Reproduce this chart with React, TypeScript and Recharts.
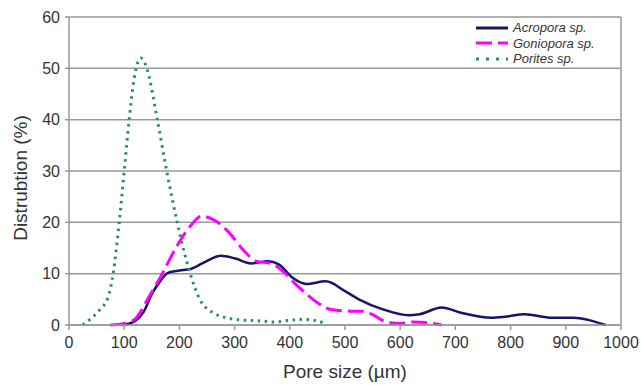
// Pore size distribution of three coral species
import { LineChart, Line, XAxis, YAxis, CartesianGrid, ReferenceLine, Label } from "recharts";

const xTicks = [0, 100, 200, 300, 400, 500, 600, 700, 800, 900, 1000];
const yTicks = [0, 10, 20, 30, 40, 50, 60];

const acroporaX = [95, 110, 120, 135, 150, 165, 180, 200, 220, 245, 275, 300, 330, 360, 380, 405, 430, 465, 500, 525, 570, 615, 635, 675, 710, 765, 790, 825, 875, 915, 940, 972];
const acroporaY = [0, 0.3, 0.8, 2.5, 6, 8.5, 10.2, 10.6, 10.9, 12.2, 13.5, 13, 12, 12.4, 11.8, 9.2, 8.0, 8.5, 6.6, 5, 3, 1.9, 2.1, 3.4, 2.4, 1.4, 1.6, 2.1, 1.4, 1.4, 1.0, 0];

const gonioporaX = [75, 100, 120, 145, 170, 195, 220, 240, 265, 290, 315, 340, 365, 385, 410, 435, 455, 475, 510, 530, 550, 575, 600, 625, 645, 675];
const gonioporaY = [0, 0.3, 1.2, 5.5, 10.2, 15.3, 19.3, 21.2, 20.3, 18, 14.7, 12.4, 12, 10.7, 8, 5.6, 4, 3, 2.7, 2.7, 2, 0.6, 0.3, 0.6, 0.5, 0];

const poritesX = [25, 38, 56, 71, 80, 91, 100, 109, 118, 130, 141, 160, 177, 196, 219, 237, 261, 285, 310, 345, 370, 400, 423, 450, 465];
const poritesY = [0, 1.1, 3, 5.5, 10, 20, 30, 40, 48, 52, 50, 40, 30, 20, 10.2, 5, 2.4, 1.4, 1, 0.8, 0.6, 0.9, 1.1, 0.8, 0.2];

const seriesNames = ["Acropora sp.", "Goniopora sp.", "Porites sp."];

const toRows = (xs: number[], ys: number[]) => xs.map((x, i) => ({ x, y: ys[i] }));

const acroporaData = toRows(acroporaX, acroporaY);
const gonioporaData = toRows(gonioporaX, gonioporaY);
const poritesData = toRows(poritesX, poritesY);

const font = "Arial, 'Liberation Sans', sans-serif";

const legendItems = [
  { name: seriesNames[0], color: "#15156b", dash: undefined },
  { name: seriesNames[1], color: "#ff00ff", dash: "16 6" },
  { name: seriesNames[2], color: "#2e8b6a", dash: "3 7" },
];

function CustomLegend() {
  return (
    <div
      style={{
        position: "absolute",
        left: 474,
        top: 20,
        background: "white",
        fontFamily: font,
        fontSize: 13,
        fontStyle: "italic",
        color: "#333",
        lineHeight: "15.5px",
      }}
    >
      {legendItems.map((it) => (
        <div key={it.name} style={{ display: "flex", alignItems: "center", height: 15.5 }}>
          <svg width={39} height={8}>
            <line x1={2} y1={4} x2={34} y2={4} stroke={it.color} strokeWidth={3} strokeDasharray={it.dash} />
          </svg>
          <span>{it.name}</span>
        </div>
      ))}
    </div>
  );
}

export default function App() {
  return (
    <div style={{ position: "absolute", left: 0, top: 0, width: 641, height: 385, background: "white" }}>
      <LineChart width={641} height={385} margin={{ top: 17, right: 20, left: 0, bottom: 0 }}>
        <CartesianGrid vertical={false} stroke="#999" strokeWidth={1.5} />
        <XAxis
          type="number"
          dataKey="x"
          domain={[0, 1000]}
          ticks={xTicks}
          interval={0}
          height={60}
          stroke="#999"
          strokeWidth={1.5}
          tickSize={5}
          tickMargin={7}
          tick={{ fill: "#333", fontSize: 16, fontFamily: font }}
        >
          <Label value="Pore size (µm)" position="insideBottom" offset={7} style={{ fill: "#333", fontSize: 19, fontFamily: font }} />
        </XAxis>
        <YAxis
          type="number"
          domain={[0, 60]}
          ticks={yTicks}
          interval={0}
          width={69}
          stroke="#999"
          strokeWidth={1.5}
          tickSize={4}
          tickMargin={5}
          tick={{ fill: "#333", fontSize: 16, fontFamily: font }}
        >
          <Label
            content={() => (
              <text x={27} y={178} transform="rotate(-90 27 178)" textAnchor="middle" fill="#333" fontSize={19} fontFamily={font}>
                Distrubtion (%)
              </text>
            )}
          />
        </YAxis>
        <ReferenceLine x={1000} stroke="#999" strokeWidth={1.5} />
        <Line data={acroporaData} dataKey="y" name={seriesNames[0]} type="monotone" stroke="#15156b" strokeWidth={2.5} dot={false} isAnimationActive={false} />
        <Line data={gonioporaData} dataKey="y" name={seriesNames[1]} type="monotone" stroke="#ff00ff" strokeWidth={3} strokeDasharray="16 6" dot={false} isAnimationActive={false} />
        <Line data={poritesData} dataKey="y" name={seriesNames[2]} type="monotone" stroke="#2e8b6a" strokeWidth={3} strokeDasharray="2.5 4.5" dot={false} isAnimationActive={false} />
      </LineChart>
      <CustomLegend />
    </div>
  );
}
